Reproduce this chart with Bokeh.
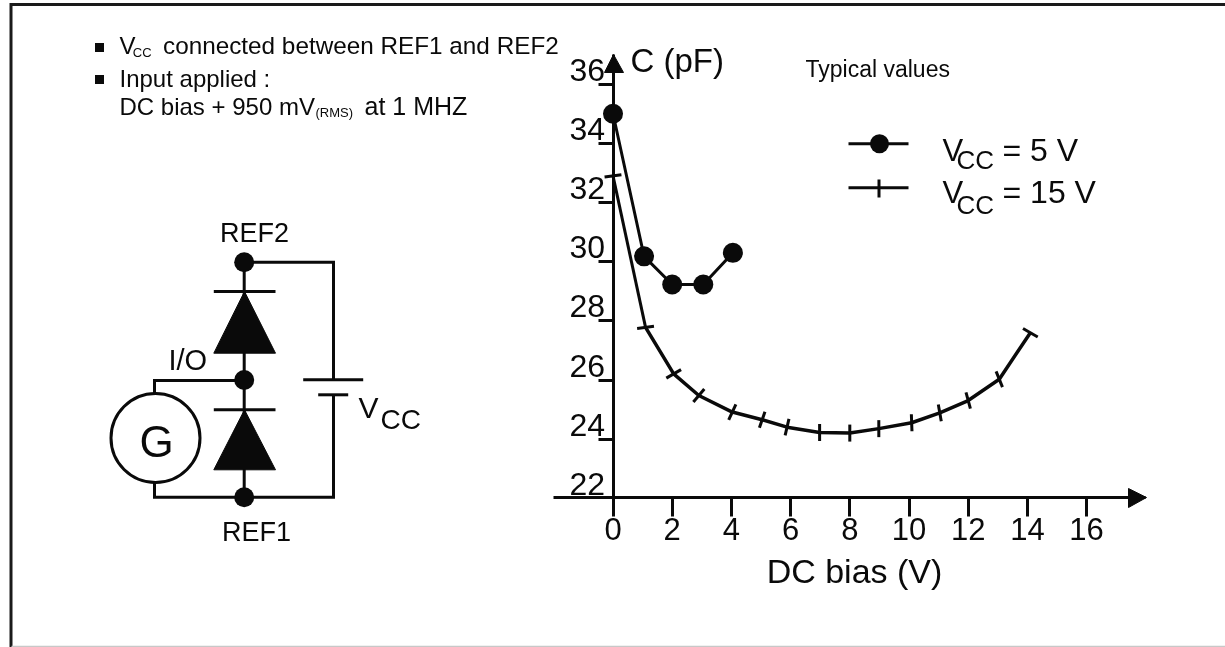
from bokeh.plotting import figure
from bokeh.models import Range1d, FixedTicker, LinearAxis
from bokeh.core.properties import value
from bokeh.embed import file_html
from bokeh.resources import INLINE

# ---- chart data
x_5v = [0, 1.05, 2, 3.05, 4.05]
c_5v = [35.0, 30.18, 29.23, 29.23, 30.3]
x_15v = [0, 1.1, 2.05, 2.9, 4.03, 5.04, 5.88, 6.98, 8.0, 8.98, 10.09, 11.04, 12.0, 13.05, 14.1]
c_15v = [32.9, 27.78, 26.21, 25.48, 24.92, 24.66, 24.41, 24.23, 24.21, 24.36, 24.56, 24.89, 25.31, 26.03, 27.6]
tick_deg_15v = [8, 8, 30, 50, 65, 71, 77, 90, 90, 90, 92, 100, 105, 112, 150]
x_ticks = [0, 2, 4, 6, 8, 10, 12, 14, 16]
y_ticks = [22, 24, 26, 28, 30, 32, 34, 36]

W, H = 1225, 647
PX = 29.6
X0, Y0 = 612.5, 498.0
LABEL_RAISE = 14.5
FONT = value("Liberation Sans")
y_lo, y_hi = 22 - (H - Y0) / PX, 22 + Y0 / PX

p = figure(width=W, height=H, output_backend="svg", toolbar_location=None,
           x_range=Range1d(-X0 / PX, (W - X0) / PX),
           y_range=Range1d(y_lo, y_hi),
           min_border=0, outline_line_color=None, background_fill_color="white",
           styles={"position": "fixed", "left": "0px", "top": "0px"})
p.extra_x_ranges = {"px": Range1d(0, W)}
p.extra_y_ranges = {"px": Range1d(H, 0),
                    "labels": Range1d(y_lo - LABEL_RAISE / PX, y_hi - LABEL_RAISE / PX)}
p.grid.visible = False

INK = "#0a0a0a"

# ---- axes
xa = p.xaxis[0]
xa.fixed_location = 22.03
xa.bounds = (-2.0, 18.0)
xa.ticker = FixedTicker(ticks=x_ticks)
xa.major_tick_in = 0
xa.major_tick_out = 19
xa.minor_tick_line_color = None
xa.axis_line_width = 3
xa.major_tick_line_width = 3
xa.axis_line_color = INK
xa.major_tick_line_color = INK
xa.major_label_text_font = "Liberation Sans"
xa.major_label_text_font_size = "31px"
xa.major_label_text_color = INK
xa.major_label_standoff = 1

ya = p.yaxis[0]
ya.fixed_location = 0
ya.bounds = (22, 37)
ya.ticker = FixedTicker(ticks=y_ticks[1:])
ya.major_tick_in = 0
ya.major_tick_out = 15
ya.minor_tick_line_color = None
ya.axis_line_width = 3
ya.major_tick_line_width = 3
ya.axis_line_color = INK
ya.major_tick_line_color = INK
ya.major_label_text_color = None
ya.major_label_text_font_size = "1px"

# tick labels sit above their ticks: a second axis, shifted by a few pixels
yl = LinearAxis(y_range_name="labels", fixed_location=0, ticker=FixedTicker(ticks=y_ticks),
                axis_line_color=None, major_tick_line_color=None, minor_tick_line_color=None,
                major_tick_in=0, major_tick_out=0,
                major_label_text_font="Liberation Sans", major_label_text_font_size="32px",
                major_label_text_color=INK, major_label_standoff=8)
p.add_layout(yl, "left")


def px_line(xs, ys, w=3, color=INK):
    p.line(xs, ys, line_width=w, line_color=color, x_range_name="px", y_range_name="px",
           line_cap="butt", line_join="miter")


def px_poly(xs, ys):
    p.patch(xs, ys, fill_color=INK, line_color=INK, line_width=1,
            x_range_name="px", y_range_name="px")


def px_dot(x, y, d=20):
    p.scatter([x], [y], marker="circle", size=d, fill_color=INK, line_color=None,
              x_range_name="px", y_range_name="px")


def px_text(x, base, s, size, align="left"):
    # base = alphabetic baseline of the text, in page pixels
    p.text([x], [base - 0.33 * size + 0.5], text=[s], text_font=FONT, text_font_size=f"{size}px",
           text_color=INK, text_align=align, text_baseline="middle",
           x_range_name="px", y_range_name="px")


# frame
px_line([10.5, 10.5, W], [H, 4, 4], 3, "#1a1a1a")
px_line([11, W], [646, 646], 1.5, "#c8c8c8")

# axis arrowheads
px_poly([613, 604, 623], [54, 72, 72])
px_poly([1146, 1128, 1128], [497, 488, 507])
px_text(630, 70, "C (pF)", 33)
px_text(854, 581, "DC bias (V)", 34, "center")
px_text(805, 75.5, "Typical values", 23)

# ---- data series
p.line(x_5v, c_5v, line_width=3, line_color=INK)
p.scatter(x_5v, c_5v, marker="circle", size=20, fill_color=INK, line_color=None)
p.line(x_15v[:2], c_15v[:2], line_width=3, line_color=INK)
p.line(x_15v[1:], c_15v[1:], line_width=3.5, line_color=INK)
p.scatter(x_15v, c_15v, marker="dash", size=17, angle=tick_deg_15v, angle_units="deg",
          line_width=3, line_color=INK)

# legend
px_line([848, 908], [143.3, 143.3])
px_dot(879, 143.3, 19)
px_line([848, 908], [187.3, 187.3])
px_line([878.5, 878.5], [179, 197])
px_text(942, 160, "V", 31)
px_text(956, 168, "CC", 26)
px_text(1002, 160, "= 5 V", 32)
px_text(942, 202, "V", 31)
px_text(956, 212.5, "CC", 26)
px_text(1002, 202, "= 15 V", 32)

# notes
p.scatter([99, 99], [47, 79], marker="square", size=9, fill_color=INK, line_color=None,
          x_range_name="px", y_range_name="px")
px_text(119, 52.7, "V", 24)
px_text(132.3, 55.5, "CC", 13)
px_text(162.5, 52.7, "connected between REF1 and REF2", 24.3)
px_text(119, 85, "Input applied :", 24)
px_text(119, 113.3, "DC bias + 950 mV", 24)
px_text(315, 115.5, "(RMS)", 13)
px_text(364, 113.3, "at 1 MHZ", 25)

# circuit
px_line([243.7, 243.7], [262, 497])
px_line([243.7, 333, 333], [261.7, 261.7, 379])
px_line([333, 333, 154, 154], [394, 496.7, 496.7, 482])
px_line([154, 154, 243.7], [393, 380, 380])
px_line([302.7, 362.7], [379.3, 379.3])
px_line([317.7, 347.7], [394.3, 394.3])
for top, base in ((291, 352.7), (409.3, 469.3)):
    px_line([213.3, 275], [top, top])
    px_poly([244, 213.3, 275], [top, base, base])
px_dot(243.7, 261.7)
px_dot(243.7, 379.5, 20)
px_dot(243.7, 496.7)
p.scatter([155], [437.5], marker="circle", size=89, fill_color="white", line_color=INK, line_width=3,
          x_range_name="px", y_range_name="px")
px_text(156, 455, "G", 44, "center")
px_text(254, 241.2, "REF2", 27, "center")
px_text(256, 539.5, "REF1", 27, "center")
px_text(168, 369, "I/O", 29)
px_text(358, 416.2, "V", 30)
px_text(380, 427.5, "CC", 28)

open("out.html", "w").write(file_html(p, INLINE))
